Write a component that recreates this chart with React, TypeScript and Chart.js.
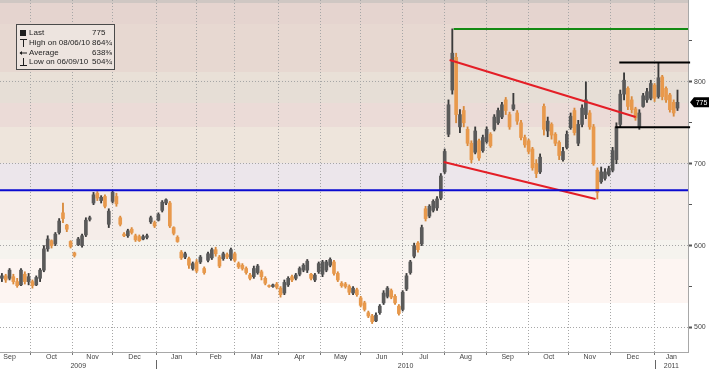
import React, { useEffect, useRef } from 'react';
import { Chart, registerables } from 'chart.js';

Chart.register(...registerables);

// Trading-day index counted from 1 Sep 2009; one bar every second trading day
const FIRST_DAY = 7;
const DAY_STEP = 2;

const opens = [
  560, 563, 560, 562, 556, 552, 565, 556, 556, 552,
  560, 570, 596, 606, 602, 616, 640, 625, 605, 591,
  601, 600, 613, 632, 652, 664, 655, 660, 626, 654,
  660, 634, 614, 612, 620, 612, 611, 608, 610, 629,
  628, 631, 643, 652, 652, 622, 610, 592, 586, 584,
  572, 580, 580, 572, 582, 585, 595, 586, 584, 589,
  584, 590, 578, 576, 572, 564, 562, 567, 568, 560,
  551, 550, 553, 548, 542, 552, 562, 560, 565, 570,
  570, 565, 558, 568, 565, 570, 576, 580, 566, 554,
  553, 550, 542, 546, 536, 530, 518, 514, 508, 518,
  530, 538, 545, 538, 526, 522, 547, 567, 587, 603,
  602, 645, 636, 643, 646, 658, 690, 736, 790, 830,
  745, 765, 742, 725, 714, 728, 716, 727, 736, 742,
  750, 757, 778, 760, 767, 762, 750, 732, 728, 718,
  700, 690, 770, 740, 748, 736, 726, 705, 720, 744,
  765, 725, 748, 760, 762, 745, 692, 678, 682, 687,
  692, 705, 748, 785, 792, 778, 767, 745, 770, 778,
  780, 796, 782, 806, 792, 784, 775, 768,
];
const highs = [
  566, 565, 572, 565, 560, 572, 568, 566, 558, 563,
  572, 600, 612, 607, 616, 633, 652, 626, 606, 592,
  610, 614, 634, 636, 665, 666, 661, 662, 645, 667,
  664, 636, 616, 620, 622, 614, 613, 613, 614, 636,
  630, 640, 655, 657, 654, 623, 612, 594, 592, 586,
  580, 583, 588, 574, 592, 597, 598, 588, 592, 591,
  597, 592, 580, 578, 574, 566, 575, 577, 570, 562,
  552, 553, 555, 550, 558, 562, 564, 566, 574, 578,
  583, 566, 566, 580, 582, 582, 585, 582, 568, 556,
  555, 552, 550, 548, 538, 532, 520, 516, 518, 528,
  545, 550, 547, 540, 528, 545, 566, 582, 603, 605,
  625, 648, 650, 656, 660, 688, 718, 778, 864.75, 835,
  766, 770, 745, 728, 745, 730, 735, 745, 738, 760,
  768, 775, 781, 763, 786, 765, 753, 735, 730, 720,
  705, 712, 773, 757, 750, 738, 728, 720, 740, 762,
  768, 753, 772, 800, 765, 748, 695, 696, 694, 697,
  720, 750, 790, 811, 794, 782, 769, 766, 786, 792,
  802, 798, 823, 808, 794, 786, 778, 790,
];
const lows = [
  556, 555, 558, 553, 549, 551, 553, 552, 548, 551,
  556, 568, 593, 597, 600, 614, 628, 617, 597, 586,
  600, 598, 611, 630, 650, 655, 652, 646, 622, 652,
  648, 624, 611, 610, 614, 605, 605, 607, 608, 627,
  622, 630, 641, 650, 622, 613, 604, 583, 584, 572,
  570, 567, 578, 565, 580, 583, 587, 573, 582, 584,
  582, 580, 572, 570, 565, 558, 560, 565, 558, 552,
  549, 549, 547, 537, 540, 550, 556, 558, 563, 568,
  567, 558, 556, 566, 562, 568, 574, 564, 556, 549,
  548, 540, 540, 538, 525, 520, 512, 504.75, 507, 516,
  528, 536, 535, 528, 515, 520, 545, 565, 585, 592,
  600, 630, 634, 641, 643, 656, 688, 733, 785, 750,
  738, 745, 722, 701, 712, 704, 714, 725, 720, 740,
  748, 755, 760, 742, 765, 748, 729, 720, 712, 692,
  683, 688, 735, 733, 730, 722, 705, 703, 718, 742,
  735, 722, 745, 755, 742, 698, 657, 676, 680, 685,
  690, 700, 745, 778, 766, 762, 753, 742, 769, 775,
  778, 776, 780, 778, 775, 763, 758, 765,
];
const closes = [
  563, 558, 570, 556, 551, 570, 556, 562, 551, 561,
  570, 596, 608, 600, 614, 630, 633, 620, 599, 588,
  608, 612, 631, 634, 662, 658, 659, 648, 642, 665,
  651, 626, 612, 618, 616, 607, 606, 611, 612, 634,
  624, 638, 653, 656, 624, 615, 605, 585, 590, 576,
  578, 569, 586, 567, 590, 595, 590, 575, 590, 586,
  595, 582, 574, 572, 567, 560, 572, 575, 562, 554,
  550, 552, 549, 540, 555, 560, 558, 564, 572, 576,
  581, 560, 564, 578, 580, 580, 583, 566, 558, 551,
  550, 543, 548, 540, 527, 522, 514, 507, 515, 526,
  542, 548, 537, 530, 517, 543, 563, 580, 600, 595,
  622, 633, 648, 654, 657, 685, 715, 772, 835, 760,
  760, 750, 725, 705, 740, 707, 732, 742, 722, 757,
  765, 772, 765, 745, 772, 752, 732, 723, 715, 695,
  688, 708, 742, 752, 735, 725, 710, 715, 736, 758,
  738, 748, 768, 778, 745, 700, 665, 690, 690, 694,
  716, 745, 785, 802, 770, 766, 756, 762, 783, 788,
  798, 780, 805, 782, 778, 766, 762, 775,
];

// Month axis (trading-day index of each month's first day)
const monthNames = ['Sep', 'Oct', 'Nov', 'Dec', 'Jan', 'Feb', 'Mar', 'Apr', 'May', 'Jun', 'Jul', 'Aug', 'Sep', 'Oct', 'Nov', 'Dec', 'Jan'];
const monthStartDays = [0, 22, 44, 65, 88, 109, 129, 152, 174, 195, 217, 239, 261, 283, 304, 326, 349];
const yearNames = ['2009', '2010', '2011'];
const yearStartDays = [88, 349];

const X_MIN = 6;
const X_MAX = 366.5;
const Y_MIN = 470;
const Y_MAX = 900;
const yTickValues = [500, 550, 600, 650, 700, 750, 800, 850];

// Legend
const legendLabels = ['Last', 'High on 08/06/10', 'Average', 'Low on 06/09/10'];
const legendValues = ['775', '864\u00BE', '638\u215C', '504\u00BE'];
const lastPrice = 775;

// Drawn study lines: [day, price] endpoints
const greenLine = [[243.7, 864.5], [X_MAX, 864.5]];
const blueLine = [[X_MIN, 667.5], [X_MAX, 667.5]];
const resistanceLine = [[330.5, 823.5], [367.6, 823.5]];
const supportLine = [[328.4, 744.5], [367.6, 744.5]];
const channelTop = [[241.6, 826.7], [339.1, 757.1]];
const channelBottom = [[238.5, 702.1], [318.1, 656.9]];

// Background shading bands [from, to, colour]
const bands: [number, number, string][] = [
  [896, 900, '#cfc7c3'],
  [871, 896, '#e5d4cf'],
  [812, 871, '#e7d8d1'],
  [802, 812, '#e9e0d7'],
  [774, 802, '#e6ded6'],
  [745, 774, '#ebdbd7'],
  [701, 745, '#eee5dc'],
  [668, 701, '#ece6eb'],
  [607, 668, '#f5ede9'],
  [584, 607, '#f5f3ee'],
  [530, 584, '#fdf5f2'],
];

const FONT = 'Liberation Sans';

type XTick = { value: number; label: string | string[]; grid: boolean };

function buildXTicks(): XTick[] {
  const labelTicks: XTick[] = monthNames.map((name, i) => {
    const a = monthStartDays[i];
    const b = i + 1 < monthStartDays.length ? monthStartDays[i + 1] : X_MAX;
    return { value: (a + b) / 2, label: name, grid: false };
  });
  const yearBounds = [X_MIN, ...yearStartDays, X_MAX];
  const yearTicks: XTick[] = yearNames.map((name, i) => ({
    value: (yearBounds[i] + yearBounds[i + 1]) / 2,
    label: ['', name],
    grid: false,
  }));
  const gridTicks: XTick[] = monthStartDays
    .filter((d) => d > X_MIN && d < X_MAX)
    .map((d) => ({ value: d, label: '', grid: true }));
  return [...labelTicks, ...yearTicks, ...gridTicks];
}

const seg = (pts: number[][]) => pts.map(([x, y]) => ({ x, y }));

export default function App() {
  const canvasRef = useRef<HTMLCanvasElement | null>(null);

  useEffect(() => {
    document.body.style.margin = '0';
    const canvas = canvasRef.current;
    if (!canvas) return;

    const xTicks = buildXTicks();
    const xs = opens.map((_, i) => FIRST_DAY + DAY_STEP * i);
    const up = opens.map((o, i) => closes[i] >= o);

    const decoPlugin = {
      id: 'deco',
      beforeDraw(chart: any) {
        const { ctx, chartArea: a, scales } = chart;
        const y = scales.y;
        ctx.save();
        ctx.fillStyle = '#ffffff';
        ctx.fillRect(0, 0, chart.width, chart.height);
        for (const [lo, hi, color] of bands) {
          const y1 = Math.round(Math.max(y.getPixelForValue(hi), a.top));
          const y2 = Math.round(Math.min(y.getPixelForValue(lo), a.bottom));
          ctx.fillStyle = color;
          ctx.fillRect(a.left, y1, a.right - a.left, y2 - y1);
        }
        ctx.restore();
      },
      afterDraw(chart: any) {
        const { ctx, scales } = chart;
        const x = scales.x;
        const y = scales.y;
        ctx.save();
        // year separators
        ctx.strokeStyle = '#666';
        ctx.lineWidth = 1;
        for (const d of yearStartDays) {
          const px = Math.round(x.getPixelForValue(d)) + 0.5;
          ctx.beginPath();
          ctx.moveTo(px, 360);
          ctx.lineTo(px, 369);
          ctx.stroke();
        }
        // last price marker
        const ly = y.getPixelForValue(lastPrice);
        ctx.fillStyle = '#000';
        ctx.beginPath();
        ctx.moveTo(690, ly);
        ctx.lineTo(694, ly - 5);
        ctx.lineTo(709, ly - 5);
        ctx.lineTo(709, ly + 5);
        ctx.lineTo(694, ly + 5);
        ctx.closePath();
        ctx.fill();
        ctx.fillStyle = '#fff';
        ctx.font = `7px "${FONT}"`;
        ctx.textAlign = 'center';
        ctx.textBaseline = 'middle';
        ctx.fillText(String(lastPrice), 701.5, ly + 0.5);

        // legend box
        ctx.fillStyle = '#ede4df';
        ctx.fillRect(16, 24, 99, 46);
        ctx.strokeStyle = '#4a4a4a';
        ctx.strokeRect(16.5, 24.5, 98, 45);
        const rows = [33, 43, 52.5, 62];
        ctx.fillStyle = '#1e1e1e';
        ctx.font = `8px "${FONT}"`;
        ctx.textAlign = 'left';
        legendLabels.forEach((t, i) => {
          ctx.fillText(t, 29, rows[i]);
          ctx.fillText(legendValues[i], 92, rows[i]);
        });
        // icons
        ctx.fillRect(20, rows[0] - 3, 6, 6);
        ctx.strokeStyle = '#1e1e1e';
        ctx.beginPath();
        ctx.moveTo(20, rows[1] - 3.5); ctx.lineTo(27, rows[1] - 3.5);
        ctx.moveTo(23.5, rows[1] - 3.5); ctx.lineTo(23.5, rows[1] + 4);
        ctx.moveTo(20, rows[2] + 0.5); ctx.lineTo(27, rows[2] + 0.5);
        ctx.moveTo(20, rows[3] + 3.5); ctx.lineTo(27, rows[3] + 3.5);
        ctx.moveTo(23.5, rows[3] - 4); ctx.lineTo(23.5, rows[3] + 3.5);
        ctx.stroke();
        ctx.beginPath();
        ctx.moveTo(19.5, rows[2] + 0.5); ctx.lineTo(22, rows[2] - 1.5); ctx.lineTo(22, rows[2] + 2.5);
        ctx.closePath();
        ctx.fill();
        ctx.restore();
      },
    };

    const lineDs = (pts: number[][], color: string, clip = true) => ({
      type: 'line' as const,
      data: seg(pts),
      borderColor: color,
      borderWidth: 2,
      pointRadius: 0,
      fill: false,
      order: 0,
      clip: clip ? undefined : false,
    });

    const chart = new Chart(canvas, {
      type: 'bar',
      data: {
        datasets: [
          lineDs(greenLine, '#138a13'),
          lineDs(blueLine, '#0a0ad0'),
          lineDs(resistanceLine, '#000000', false),
          lineDs(supportLine, '#000000', false),
          lineDs(channelTop, '#e41e26'),
          lineDs(channelBottom, '#e41e26'),
          {
            type: 'bar',
            data: xs.map((x, i) => ({ x, y: [opens[i], closes[i]] })),
            backgroundColor: up.map((u) => (u ? '#5a5a5a' : '#e8994c')),
            borderWidth: 0,
            barThickness: 3,
            minBarLength: 1,
            grouped: false,
            order: 1,
          },
          {
            type: 'bar',
            data: xs.map((x, i) => ({ x, y: [lows[i], highs[i]] })),
            backgroundColor: up.map((u) => (u ? '#3a3a3a' : '#d98a3c')),
            borderWidth: 0,
            barThickness: 1.2,
            grouped: false,
            order: 2,
          },
        ] as any,
      },
      options: {
        responsive: false,
        animation: false,
        devicePixelRatio: 1,
        layout: { padding: 0 },
        plugins: { legend: { display: false }, tooltip: { enabled: false } },
        scales: {
          x: {
            type: 'linear',
            min: X_MIN,
            max: X_MAX,
            offset: false,
            grid: {
              offset: false,
              color: (c: any) => (xTicks[c.index] && xTicks[c.index].grid ? '#a6a6a6' : 'rgba(0,0,0,0)'),
              tickColor: (c: any) => (xTicks[c.index] && xTicks[c.index].grid ? '#777777' : 'rgba(0,0,0,0)'),
              tickLength: 3,
            },
            border: { display: true, color: '#a8a8a8', dash: [1, 2] },
            afterBuildTicks: (s: any) => {
              s.ticks = xTicks.map((t) => ({ value: t.value }));
            },
            ticks: {
              autoSkip: false,
              maxRotation: 0,
              minRotation: 0,
              padding: -2,
              color: '#444',
              font: { family: FONT, size: 7 },
              callback: (_v: any, i: number) => (xTicks[i] ? xTicks[i].label : ''),
            },
            afterFit: (s: any) => {
              s.height = 17;
              s.paddingLeft = 0;
              s.paddingRight = 0;
              s.paddingTop = 0;
              s.paddingBottom = 0;
            },
          } as any,
          y: {
            type: 'linear',
            position: 'right',
            min: Y_MIN,
            max: Y_MAX,
            grid: {
              color: (c: any) => (c.tick && c.tick.value % 100 === 0 ? '#a6a6a6' : 'rgba(0,0,0,0)'),
              tickColor: '#555',
              tickWidth: (c: any) => (c.tick && c.tick.value % 100 === 0 ? 2 : 1),
              tickLength: 4,
            },
            border: { display: true, color: '#a8a8a8', dash: [1, 2] },
            afterBuildTicks: (s: any) => {
              s.ticks = yTickValues.map((v) => ({ value: v }));
            },
            ticks: {
              padding: 2,
              color: '#444',
              font: { family: FONT, size: 7 },
              callback: (v: any) => (Number(v) % 100 === 0 ? String(v) : ''),
            },
            afterFit: (s: any) => {
              s.width = 22;
              s.paddingLeft = 0;
              s.paddingRight = 0;
              s.paddingTop = 0;
              s.paddingBottom = 0;
            },
          } as any,
        },
      },
      plugins: [decoPlugin],
    });

    return () => chart.destroy();
  }, []);

  return <canvas ref={canvasRef} width={710} height={369} style={{ display: 'block' }} />;
}
